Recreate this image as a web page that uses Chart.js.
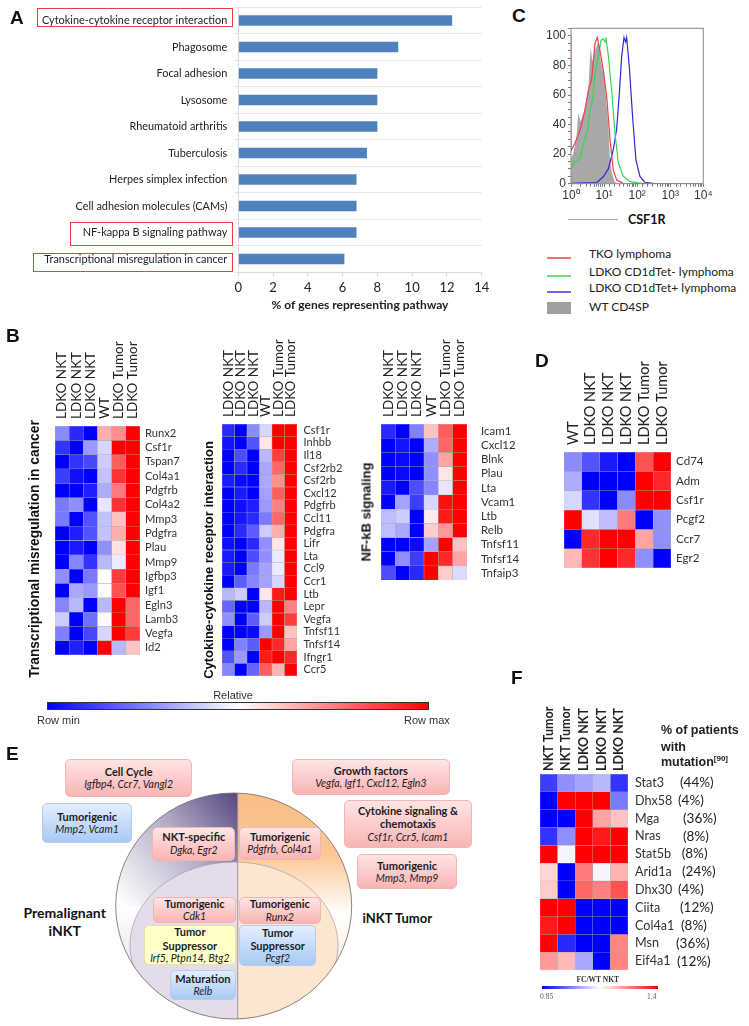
<!DOCTYPE html>
<html>
<head>
<meta charset="utf-8">
<title>Figure</title>
<script src="https://cdn.jsdelivr.net/npm/chart.js@4"></script>
<style>
  html, body { margin: 0; padding: 0; background: #fff; }
  #page { position: relative; width: 749px; height: 1026px; overflow: hidden; font-family: Lato, sans-serif; color: #222; }
  #page canvas { position: absolute; }
  .t { position: absolute; white-space: nowrap; line-height: 1; }
  .letter { font: bold 19px "Liberation Sans", sans-serif; color: #111; }
  .vtitle { font-family: "Liberation Sans", sans-serif; font-weight: bold; color: #111; transform: translate(-50%, -50%) rotate(-90deg); }
  .redbox { position: absolute; border: 1px solid #ee3b3b; box-sizing: border-box; }
  .box { position: absolute; box-sizing: border-box; border-radius: 5px; text-align: center; display: flex; flex-direction: column; justify-content: center; font-size: 11px; line-height: 13.3px; color: #1c1c1c; }
  .box b { font-weight: 700; font-size: 11px; }
  .box i { font-size: 10.5px; }
  .pink { background: linear-gradient(#ffe4e4, #f9b4b4); border: 1px solid #efb6b6; }
  .blue { background: linear-gradient(#e3eeff, #a9c9f3); border: 1px solid #b4cdee; }
  .yellow { background: #ffffc9; border: 1px solid #e6e2a8; }
</style>
</head>
<body>
<div id="page">
  <svg width="749" height="1026" style="position:absolute;left:0;top:0">
    <defs>
      <linearGradient id="leftGrad" gradientUnits="userSpaceOnUse" x1="238" y1="800" x2="118" y2="900">
        <stop offset="0" stop-color="#5b4c84"/>
        <stop offset="0.45" stop-color="#b5adc8"/>
        <stop offset="1" stop-color="#ffffff"/>
      </linearGradient>
      <linearGradient id="leftLow" gradientUnits="userSpaceOnUse" x1="0" y1="906" x2="0" y2="985">
        <stop offset="0" stop-color="#ffffff"/>
        <stop offset="1" stop-color="#e4dbeb"/>
      </linearGradient>
      <linearGradient id="rightGrad" gradientUnits="userSpaceOnUse" x1="238" y1="793" x2="238" y2="915">
        <stop offset="0" stop-color="#f9bd85"/>
        <stop offset="0.5" stop-color="#fbc794"/>
        <stop offset="1" stop-color="#ffffff"/>
      </linearGradient>
      <linearGradient id="rightLow" gradientUnits="userSpaceOnUse" x1="0" y1="915" x2="0" y2="985">
        <stop offset="0" stop-color="#ffffff"/>
        <stop offset="1" stop-color="#fde6d0"/>
      </linearGradient>
      <clipPath id="outerClip"><ellipse cx="233.7" cy="906" rx="118" ry="113"/></clipPath>
      <clipPath id="leftClip"><rect x="100" y="780" width="137.7" height="250"/></clipPath>
      <clipPath id="rightClip"><rect x="237.7" y="780" width="130" height="250"/></clipPath>
    </defs>
    <g clip-path="url(#outerClip)">
      <rect x="100" y="780" width="137.7" height="126" fill="url(#leftGrad)"/>
      <rect x="100" y="906" width="137.7" height="120" fill="url(#leftLow)"/>
      <rect x="237.7" y="780" width="130" height="135" fill="url(#rightGrad)"/>
      <rect x="237.7" y="915" width="130" height="110" fill="url(#rightLow)"/>
      <ellipse cx="234" cy="945" rx="104" ry="83" fill="#e4dbeb" clip-path="url(#leftClip)"/>
      <ellipse cx="234" cy="945" rx="104" ry="83" fill="#fde6d0" clip-path="url(#rightClip)"/>
      <ellipse cx="234" cy="945" rx="104" ry="83" fill="none" stroke="#9d8f9f" stroke-width="0.6"/>
    </g>
    <line x1="237.7" y1="793" x2="237.7" y2="1019" stroke="#8b7f90" stroke-width="0.8"/>
    <ellipse cx="233.7" cy="906" rx="118" ry="113" fill="none" stroke="#6e675f" stroke-width="0.8"/>
  </svg>
</div>
<script>
// panel A
const pathways = ['Cytokine-cytokine receptor interaction', 'Phagosome', 'Focal adhesion', 'Lysosome', 'Rheumatoid arthritis', 'Tuberculosis', 'Herpes simplex infection', 'Cell adhesion molecules (CAMs)', 'NF-kappa B signaling pathway', 'Transcriptional misregulation in cancer'];
const pathwayPct = [12.3, 9.2, 8.0, 8.0, 8.0, 7.4, 6.8, 6.8, 6.8, 6.1];

// panel C, histogram traces as [x, y]
const tkoTrace = [[1,100],[1,22],[1.48,30],[1.87,36],[2.65,50],[3.34,63],[4.21,71],[5.31,95],[6.25,99],[7.53,90],[9.49,77],[12,59],[15.1,30],[19,9],[24,2.5],[38,0.2],[10000,0]];
const cd1dNegTrace = [[1,10],[1.32,15],[1.87,17],[2.36,27],[3.12,35],[3.75,50],[4.52,57],[5.31,75],[6.7,86],[8.07,97],[9.49,98],[10.7,96],[11.4,99],[13.4,87],[17,63],[21.4,34],[27,14],[38,5],[60.7,1.4],[122,0.4],[300,0]];
const cd1dPosTrace = [[1,0.3],[5.97,0.7],[9.49,4.7],[13.4,10],[19,23],[24,37],[28.9,61],[34,86],[40,99],[44.9,96],[48.2,99],[58,79],[73,45],[92,16],[122,4.7],[172,1],[308,0.2],[1000,0]];
const wtTrace = [[1,17],[1.18,20.6],[1.48,33],[1.66,47.6],[1.96,42],[2.36,47.6],[2.77,54],[3.34,64.6],[3.93,92.8],[4.41,82.6],[5.31,90.5],[6.7,96],[8.06,82.6],[10.2,71.4],[13.4,39.7],[15,17],[17,8],[21,1.4],[27,0]];
const flowYTicks = [0, 20, 40, 60, 80, 100];
const flowXLabels = { 1: '10⁰', 10: '10¹', 100: '10²', 1000: '10³', 10000: '10⁴' };

// heatmaps, 0 = row min (blue), 50 = white, 100 = row max (red)
const lkoColumns = ['LDKO NKT', 'LDKO NKT', 'LDKO NKT', 'WT', 'LDKO Tumor', 'LDKO Tumor'];
const dColumns = ['WT', 'LDKO NKT', 'LDKO NKT', 'LDKO NKT', 'LDKO Tumor', 'LDKO Tumor'];
const fColumns = ['NKT Tumor', 'NKT Tumor', 'LDKO NKT', 'LDKO NKT', 'LDKO NKT'];

const misregGenes = ['Runx2', 'Csf1r', 'Tspan7', 'Col4a1', 'Pdgfrb', 'Col4a2', 'Mmp3', 'Pdgfra', 'Plau', 'Mmp9', 'Igfbp3', 'Igf1', 'Egln3', 'Lamb3', 'Vegfa', 'Id2'];
const misregValues = [
  [27,8,0,66,72,100],
  [10,0,30,42,100,100],
  [0,10,14,40,82,100],
  [12,3,0,38,90,100],
  [0,0,6,34,76,100],
  [24,28,0,45,90,100],
  [24,0,16,38,62,100],
  [0,6,16,38,66,100],
  [0,5,0,28,56,100],
  [0,26,10,36,46,100],
  [28,0,24,50,88,100],
  [0,33,30,49,84,100],
  [26,36,0,36,100,80],
  [40,0,22,49,100,80],
  [25,0,14,42,100,88],
  [0,6,0,100,36,62]
];

const cytokineGenes = ['Csf1r', 'Inhbb', 'Il18', 'Csf2rb2', 'Csf2rb', 'Cxcl12', 'Pdgfrb', 'Ccl11', 'Pdgfra', 'Lifr', 'Lta', 'Ccl9', 'Ccr1', 'Ltb', 'Lepr', 'Vegfa', 'Tnfsf11', 'Tnfsf14', 'Ifngr1', 'Ccr5'];
const cytokineValues = [
  [8,0,27,42,100,100],
  [4,0,16,55,100,100],
  [0,15,0,36,88,100],
  [0,8,0,33,80,100],
  [5,2,0,33,72,100],
  [0,5,0,32,82,100],
  [0,3,6,30,75,100],
  [0,4,8,24,80,100],
  [0,8,18,40,66,100],
  [3,0,8,28,55,100],
  [5,0,15,28,46,100],
  [5,0,24,32,46,100],
  [0,18,26,32,42,100],
  [36,40,0,55,95,100],
  [20,0,0,36,100,75],
  [28,0,18,40,100,88],
  [0,0,2,30,100,62],
  [0,25,18,100,92,68],
  [16,30,0,95,100,92],
  [26,0,20,82,65,100]
];

const nfkbGenes = ['Icam1', 'Cxcl12', 'Blnk', 'Plau', 'Lta', 'Vcam1', 'Ltb', 'Relb', 'Tnfsf11', 'Tnfsf14', 'Tnfaip3'];
const nfkbValues = [
  [8,0,25,62,82,100],
  [0,4,0,34,80,100],
  [0,2,0,28,68,100],
  [0,2,0,28,55,100],
  [5,0,15,26,45,100],
  [0,32,12,42,97,100],
  [37,40,0,54,95,100],
  [37,33,0,60,70,100],
  [0,0,2,32,100,62],
  [0,28,12,100,92,68],
  [15,0,8,100,60,43]
];

const dGenes = ['Cd74', 'Adm', 'Csf1r', 'Pcgf2', 'Ccr7', 'Egr2'];
const dValues = [
  [27,16,5,0,84,100],
  [34,0,0,0,100,92],
  [42,10,0,27,100,100],
  [100,44,37,76,0,28],
  [0,92,100,100,68,28],
  [64,90,100,92,28,0]
];

const fGenes = ['Stat3', 'Dhx58', 'Mga', 'Nras', 'Stat5b', 'Arid1a', 'Dhx30', 'Ciita', 'Col4a1', 'Msn', 'Eif4a1'];
const fValues = [
  [12,28,32,36,10],
  [0,100,100,100,24],
  [0,0,100,68,62],
  [10,28,100,95,100],
  [100,48,100,100,100],
  [58,0,76,48,65],
  [60,0,80,75,84],
  [100,100,0,0,0],
  [95,100,0,0,0],
  [100,8,0,0,74],
  [70,64,33,0,74]
];
const fMutationPct = ['(44%)', '(4%)', '(36%)', '(8%)', '(8%)', '(24%)', '(4%)', '(12%)', '(8%)', '(36%)', '(12%)'];

const page = document.getElementById('page');
Chart.defaults.animation = false;
Chart.defaults.responsive = false;
Chart.defaults.devicePixelRatio = 1;

function addCanvas(left, top, width, height) {
  const c = document.createElement('canvas');
  c.width = width;
  c.height = height;
  c.style.left = left + 'px';
  c.style.top = top + 'px';
  page.appendChild(c);
  return c.getContext('2d');
}

function addText(x, y, text, cls, css) {
  const el = document.createElement('div');
  el.className = 't ' + (cls || '');
  el.innerHTML = text;
  el.style.left = x + 'px';
  el.style.top = y + 'px';
  if (css) el.style.cssText += css;
  page.appendChild(el);
  return el;
}

function heatColor(v) {
  if (v <= 50) {
    const w = Math.round(255 * v / 50);
    return `rgb(${w},${w},255)`;
  }
  const w = Math.round(255 * (100 - v) / 50);
  return `rgb(255,${w},${w})`;
}

// one floating bar per cell, rows run down a reversed linear axis
function heatmap(p, columns, genes, values) {
  const head = 100, right = 60, padLeft = 24, padBottom = 20;
  const w = p.x1 - p.x0, h = p.y1 - p.y0;
  const colFont = p.colFont || 13.5;
  const ctx = addCanvas(p.x0 - padLeft, p.y0 - head, w + right + padLeft, h + head + padBottom);
  new Chart(ctx, {
    type: 'bar',
    data: {
      labels: columns,
      datasets: genes.map((g, r) => ({
        label: g,
        data: columns.map(() => [r, r + 1]),
        backgroundColor: values[r].map(heatColor),
        borderColor: 'rgba(120,120,120,0.45)',
        borderWidth: 0.5,
        borderSkipped: false,
        barPercentage: 1,
        categoryPercentage: 1,
        grouped: false
      }))
    },
    options: {
      layout: { padding: { left: padLeft, bottom: padBottom } },
      plugins: { legend: { display: false }, tooltip: { enabled: false } },
      scales: {
        x: {
          position: 'top',
          grid: { display: false, drawTicks: false },
          border: { display: false },
          afterFit: s => { s.height = head; },
          ticks: { autoSkip: false, minRotation: 90, maxRotation: 90, padding: p.labelGap || 7, labelOffset: colFont * 1.2, color: '#222', font: { family: 'Lato', size: colFont, weight: p.colWeight || 'normal' } }
        },
        y: {
          type: 'linear',
          position: 'right',
          reverse: true,
          min: 0,
          max: genes.length,
          grid: { display: false, drawTicks: false },
          border: { display: false },
          afterFit: s => { s.width = right; },
          afterBuildTicks: s => { s.ticks = genes.map((g, i) => ({ value: i + 0.5 })); },
          ticks: { autoSkip: false, padding: p.rowGap || 5, color: '#333', callback: (v, i) => genes[i], font: { family: 'Lato', size: p.rowFont || 11.2 } }
        }
      }
    }
  });
}

// panel A
new Chart(addCanvas(0, 0, 495, 315), {
  type: 'bar',
  data: { labels: pathways, datasets: [{ data: pathwayPct, backgroundColor: '#4f81bd', barPercentage: 0.4, categoryPercentage: 1 }] },
  options: {
    indexAxis: 'y',
    layout: { padding: { top: 7.3, right: 13.3 } },
    plugins: { legend: { display: false }, tooltip: { enabled: false } },
    scales: {
      x: {
        min: 0, max: 14,
        afterFit: s => { s.height = 42.7; },
        grid: { drawOnChartArea: false, color: '#d9d9d9', tickLength: 4 },
        border: { color: '#d9d9d9' },
        ticks: { stepSize: 2, maxRotation: 0, padding: 4, color: '#222', font: { family: 'Lato', size: 13 } },
        title: { display: true, text: '% of genes representing pathway', color: '#222', padding: { top: 0, bottom: 3 }, font: { family: 'Lato', size: 12, weight: 'bold' } }
      },
      y: {
        afterFit: s => { s.width = 238.3; s.paddingTop = 0; s.paddingBottom = 0; },
        grid: { color: '#e6e6e6', tickLength: 4 },
        border: { color: '#d9d9d9' },
        ticks: { autoSkip: false, padding: 7, color: '#222', font: { family: 'Lato', size: 10.9 } }
      }
    }
  }
});

// panel C
const framePlugin = {
  id: 'frame',
  afterDraw(chart) {
    const a = chart.chartArea, c = chart.ctx;
    c.save();
    c.strokeStyle = '#8a8a8a';
    c.lineWidth = 1;
    c.strokeRect(a.left, a.top, a.right - a.left, a.bottom - a.top);
    c.restore();
  }
};
const toPoints = tr => tr.map(p => ({ x: p[0], y: p[1] }));
const traceLine = (label, tr, color) => ({ label, data: toPoints(tr), borderColor: color, borderWidth: 1.2, pointRadius: 0, showLine: true, fill: false });
new Chart(addCanvas(530, 20, 190, 190), {
  type: 'scatter',
  data: {
    datasets: [
      traceLine('TKO lymphoma', tkoTrace, '#e8424c'),
      traceLine('LDKO CD1dTet- lymphoma', cd1dNegTrace, '#35d84a'),
      traceLine('LDKO CD1dTet+ lymphoma', cd1dPosTrace, '#2a2ad8'),
      { label: 'WT CD4SP', data: toPoints(wtTrace), showLine: true, borderWidth: 0, pointRadius: 0, backgroundColor: '#a8a8a8', fill: 'origin' }
    ]
  },
  options: {
    layout: { padding: { top: 8.3, right: 16.7 } },
    plugins: { legend: { display: false }, tooltip: { enabled: false } },
    scales: {
      x: {
        type: 'logarithmic',
        min: 1, max: 10000,
        afterFit: s => { s.height = 26.3; },
        grid: { drawOnChartArea: false, color: '#777', tickLength: 3 },
        border: { display: false },
        ticks: { autoSkip: false, maxRotation: 0, padding: 2, color: '#333', font: { family: 'Liberation Sans', size: 12 }, callback: v => flowXLabels[v] || '' }
      },
      y: {
        min: 0, max: 105.2,
        afterFit: s => { s.width = 41; s.paddingTop = 0; s.paddingBottom = 0; },
        grid: { drawOnChartArea: false, color: '#777', tickLength: 3 },
        border: { display: false },
        ticks: { stepSize: 5, autoSkip: false, padding: 2, color: '#333', font: { family: 'Liberation Sans', size: 12 }, callback: v => flowYTicks.includes(v) ? v : '' }
      }
    }
  },
  plugins: [framePlugin]
});

// panels B, D, F
heatmap({ x0: 55, x1: 140, y0: 425.7, y1: 654.7 }, lkoColumns, misregGenes, misregValues);
heatmap({ x0: 222.3, x1: 297.7, y0: 424.3, y1: 676.7, rowFont: 11, rowGap: 6.5 }, lkoColumns, cytokineGenes, cytokineValues);
heatmap({ x0: 380.7, x1: 466.7, y0: 424.3, y1: 582.3, rowFont: 11.5, rowGap: 14 }, lkoColumns, nfkbGenes, nfkbValues);
heatmap({ x0: 563.7, x1: 671.3, y0: 451.7, y1: 568.3, colFont: 14.6, rowFont: 11.6 }, dColumns, dGenes, dValues);
heatmap({ x0: 540, x1: 628.3, y0: 774, y1: 970.7, colFont: 12.5, colWeight: 'bold', labelGap: 3, rowFont: 12.6, rowGap: 7 }, fColumns, fGenes, fValues);

fMutationPct.forEach((pct, i) => {
  const cellH = (970.7 - 774) / fGenes.length;
  const px = [680, 678, 683, 683, 681.7, 682, 678, 680, 681, 676, 677][i];
  addText(px, 774 + cellH * (i + 0.5) - 7, pct, '', 'font-size:13.5px;');
});
addText(661, 723, '% of patients', '', 'font:bold 12.5px "Liberation Sans";');
addText(661, 739.5, 'with', '', 'font:bold 12.5px "Liberation Sans";');
addText(661, 755, 'mutation<sup style="font-size:8px;line-height:0">[90]</sup>', '', 'font:bold 12.5px "Liberation Sans";');

// panel letters
[['A', 10, 7], ['B', 6, 325], ['C', 512, 5], ['D', 535, 350], ['E', 6, 743], ['F', 511, 667]].forEach(l => addText(l[1], l[2], l[0], 'letter'));

// red highlight boxes in A
[[37.3, 8.3, 196, 18.4], [70.3, 221.7, 163, 24.6], [33, 253.3, 200, 18.4]].forEach(b => {
  const d = document.createElement('div');
  d.className = 'redbox';
  d.style.cssText = `left:${b[0]}px;top:${b[1]}px;width:${b[2]}px;height:${b[3]}px`;
  page.appendChild(d);
});

// panel C annotations
addText(568, 219.3, '', '', 'width:50px;height:1px;background:#aaa;');
addText(628, 212, 'CSF1R', '', 'font:bold 12.5px Lato;color:#111;');
[['TKO lymphoma', '#ef7070', 254], ['LDKO CD1dTet- lymphoma', '#6fe07a', 272], ['LDKO CD1dTet+ lymphoma', '#6a6ae6', 288]].forEach(r => {
  addText(547, r[2] + 3, '', '', `width:24px;height:1.5px;background:${r[1]};`);
  addText(589, r[2] - 6, r[0], '', 'font-size:12px;');
});
addText(546.5, 302.3, '', '', 'width:24.5px;height:12px;background:#a0a0a0;');
addText(589, 301, 'WT CD4SP', '', 'font-size:12px;');

// vertical heatmap titles
addText(35, 549, 'Transcriptional misregulation in cancer', 'vtitle', 'font-size:13.8px;');
addText(208, 560, 'Cytokine-cytokine receptor interaction', 'vtitle', 'font-size:13px;');
addText(366, 512, 'NF-kB signaling', 'vtitle', 'font-size:13px;');

// colour bars
addText(47.3, 701.5, '', '', 'width:381.7px;height:8.8px;box-sizing:border-box;border:1px solid #333;background:linear-gradient(90deg,#0000ff,#ffffff 50%,#ff0000);');
addText(233, 689, 'Relative', '', 'font:11px "Liberation Sans";transform:translateX(-50%);color:#333;');
addText(37, 714, 'Row min', '', 'font:11px "Liberation Sans";color:#333;');
addText(404, 714, 'Row max', '', 'font:11px "Liberation Sans";color:#333;');
addText(542.3, 986, '', '', 'width:116px;height:3px;background:linear-gradient(90deg,#0000ff,#ffffff 50%,#ff0000);');
addText(597.7, 975, 'FC/WT NKT', '', 'font:bold 7.5px "Liberation Serif";transform:translateX(-50%);color:#333;');
addText(540, 992, '0.85', '', 'font:7.5px "Liberation Serif";color:#555;');
addText(647, 992, '1.4', '', 'font:7.5px "Liberation Serif";color:#555;');

// panel E
const boxes = [
  ['pink', 65.3, 759.3, 192, 797, 'Cell Cycle', 'Igfbp4, Ccr7, Vangl2'],
  ['blue', 42.3, 803.3, 131.7, 843.3, 'Tumorigenic', 'Mmp2, Vcam1'],
  ['pink', 152.3, 826.7, 235.3, 860.7, 'NKT-specific', 'Dgka, Egr2'],
  ['pink', 239, 826.7, 321, 860, 'Tumorigenic', 'Pdgfrb, Col4a1'],
  ['pink', 153, 897.3, 236, 922.7, 'Tumorigenic', 'Cdk1'],
  ['pink', 239, 897.3, 320.7, 924, 'Tumorigenic', 'Runx2'],
  ['yellow', 143.7, 925.3, 236, 965.3, 'Tumor<br>Suppressor', 'Irf5, Ptpn14, Btg2'],
  ['blue', 239, 925.3, 316.3, 965.7, 'Tumor<br>Suppressor', 'Pcgf2'],
  ['blue', 169.7, 969.7, 236, 1000.3, 'Maturation', 'Relb'],
  ['pink', 291.7, 759.3, 450, 795, 'Growth factors', 'Vegfa, Igf1, Cxcl12, Egln3'],
  ['pink', 344.3, 800.3, 471.7, 848, 'Cytokine signaling &amp;<br>chemotaxis', 'Csf1r, Ccr5, Icam1'],
  ['pink', 357.3, 854.3, 456.7, 889.3, 'Tumorigenic', 'Mmp3, Mmp9']
];
boxes.forEach(b => {
  const d = document.createElement('div');
  d.className = 'box ' + b[0];
  d.style.cssText = `left:${b[1]}px;top:${b[2]}px;width:${b[3] - b[1]}px;height:${b[4] - b[2]}px`;
  d.innerHTML = `<b>${b[5]}</b><i>${b[6]}</i>`;
  page.appendChild(d);
});
addText(64.7, 904, 'Premalignant<br>iNKT', '', 'font:bold 14px/18px Lato;transform:translateX(-50%);text-align:center;color:#111;');
addText(397.3, 911, 'iNKT Tumor', '', 'font:bold 13px/14px Lato;transform:translateX(-50%);color:#111;');
</script>
</body>
</html>
